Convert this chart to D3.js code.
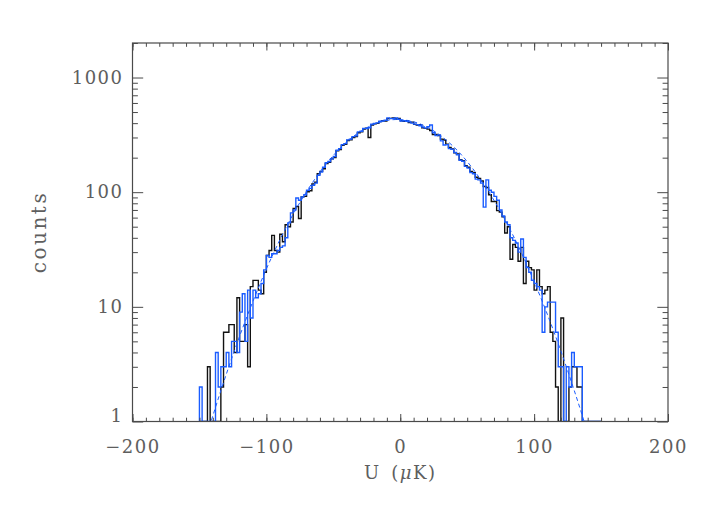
<!DOCTYPE html>
<html><head><meta charset="utf-8">
<script src="https://cdn.jsdelivr.net/npm/d3@7"></script>
<style>body{margin:0;background:#fff}svg{display:block}</style>
</head><body><svg id="c" width="708" height="506"></svg>
<script>
// ---- data ----
const binStart = -150, binWidth = 2;
const blackCounts = [
  0,0,0,3,0,0,0,0,2,6,
  6,7,7,4,12,5,5,7,3,15,
  17,17,14,13,20,28,31,42,31,30,
  43,37,52,50,55,72,75,59,91,92,
  101,103,118,122,145,152,160,178,182,195,
  200,230,235,256,262,282,286,300,306,330,
  336,355,362,300,385,395,398,412,420,418,
  438,440,445,435,440,420,415,420,405,408,
  390,385,388,365,360,355,345,318,318,312,
  290,285,262,245,238,220,215,192,188,170,
  165,152,148,135,132,125,112,110,95,83,
  83,69,67,61,44,50,26,35,33,25,
  33,16,25,22,21,14,21,15,13,14,
  15,6,5,2,0,8,0,0,2,3,
  3,2,2,0,0,0,0,0,0,0
];
const blueCounts = [
  2,0,0,0,0,0,4,2,3,3,
  4,3,5,5,4,9,13,5,14,8,
  14,12,13,16,21,28,27,29,29,31,
  33,34,40,54,66,70,89,85,91,95,
  104,108,115,120,140,150,165,181,185,195,
  205,232,240,260,265,286,290,305,310,336,
  340,360,358,365,392,398,402,415,418,425,
  445,438,440,445,432,418,420,415,410,400,
  392,388,380,370,362,372,385,330,312,316,
  280,258,260,240,236,222,212,190,186,168,
  162,148,145,130,128,120,74,128,104,100,
  92,85,70,62,55,52,40,38,36,30,
  39,27,22,20,17,16,15,14,6,10,
  11,11,11,6,3,3,0,3,2,4,
  3,3,3,0,0,0,0,0,0,0
];
const fitU = [-150,-140,-130,-120,-110,-100,-90,-80,-70,-60,-50,-40,-30,-20,-10,0,10,20,30,40,50,60,70,80,90,100,110,120,130,140,150];
const fitCounts = [0.458,1.12,2.57,5.54,11.2,21.4,38.2,64.2,101,150,209,274,337,389,422,430,411,370,312,248,185,129,85.1,52.6,30.5,16.6,8.53,4.11,1.86,0.79,0.31];
const xTicks = [-200,-100,0,100,200];
const xMinor = d3.range(-200, 201, 10);
const yTicks = [1,10,100,1000];
const yTickLabels = ["1","10","100","1000"];
const yMinor = [2,3,4,5,6,7,8,9,20,30,40,50,60,70,80,90,200,300,400,500,600,700,800,900,2000];
const xLabel = "U\u2002(", xLabelMu = "\u03BC", xLabelEnd = "K)";
const yLabel = "counts";

// ---- layout ----
const L = 132.5, R = 668, T = 43, B = 421.5;
const svg = d3.select("#c");
const x = d3.scaleLinear().domain([-200,200]).range([L,R]);
const y = d3.scaleLog().domain([1,2000]).range([B,T]).clamp(true);
const yFree = d3.scaleLog().domain([1,2000]).range([B,T]);
const axisColor = "#4a4a4a", textColor = "#5e5e5e";
const font = "'DejaVu Serif', serif";

svg.append("defs").append("clipPath").attr("id","plot")
  .append("rect").attr("x",L).attr("y",T).attr("width",R-L).attr("height",B-T);

function stepPoints(counts){
  const pts = [[binStart, 0]];
  counts.forEach((v,i)=>pts.push([binStart+i*binWidth, v]));
  const end = binStart + counts.length*binWidth;
  pts.push([end, counts[counts.length-1]]);
  pts.push([end, 0]);
  return pts;
}
const stepLine = d3.line()
  .x(d=>x(d[0])).y(d=>y(Math.max(d[1],1)))
  .curve(d3.curveStepAfter);

const g = svg.append("g").attr("clip-path","url(#plot)");
g.append("path").datum(stepPoints(blackCounts)).attr("d",stepLine)
  .attr("fill","none").attr("stroke","#111").attr("stroke-width",1.4);
g.append("path").datum(stepPoints(blueCounts)).attr("d",stepLine)
  .attr("fill","none").attr("stroke","#1a5cff").attr("stroke-width",1.4);
const fitLine = d3.line().x((d,i)=>x(fitU[i])).y(d=>yFree(d))
  .curve(d3.curveNatural);
g.append("path").datum(fitCounts).attr("d",fitLine)
  .attr("fill","none").attr("stroke","#1a5cff").attr("stroke-width",1)
  .attr("stroke-dasharray","4,3");

// ---- axes ----
function style(sel){
  sel.select(".domain").remove();
  sel.selectAll(".tick line").attr("stroke",axisColor).attr("stroke-width",1);
  sel.selectAll(".tick text").attr("fill",textColor).style("font-family",font)
    .style("font-size","18px").style("letter-spacing","1.5px");
}
const majX = 7.5, minX = 3.8, majY = 10.7, minY = 5.4;
svg.append("g").attr("transform",`translate(0,${B})`)
  .call(d3.axisBottom(x).tickValues(xTicks).tickSize(-majX).tickPadding(19)
    .tickFormat(d=>d<0?"\u2212"+Math.abs(d):String(d))).call(style);
svg.append("g").attr("transform",`translate(0,${B})`)
  .call(d3.axisBottom(x).tickValues(xMinor).tickSize(-minX).tickFormat("")).call(style);
svg.append("g").attr("transform",`translate(0,${T})`)
  .call(d3.axisTop(x).tickValues(xTicks).tickSize(-majX).tickFormat("")).call(style);
svg.append("g").attr("transform",`translate(0,${T})`)
  .call(d3.axisTop(x).tickValues(xMinor).tickSize(-minX).tickFormat("")).call(style);
const yAx = svg.append("g").attr("transform",`translate(${L},0)`)
  .call(d3.axisLeft(y).tickValues(yTicks).tickSize(-majY).tickPadding(9)
    .tickFormat((d,i)=>yTickLabels[i])).call(style);
yAx.selectAll(".tick text").filter(d=>d===1).attr("dy","0.0em");
svg.append("g").attr("transform",`translate(${L},0)`)
  .call(d3.axisLeft(y).tickValues(yMinor).tickSize(-minY).tickFormat("")).call(style);
svg.append("g").attr("transform",`translate(${R},0)`)
  .call(d3.axisRight(y).tickValues(yTicks).tickSize(-majY).tickFormat("")).call(style);
svg.append("g").attr("transform",`translate(${R},0)`)
  .call(d3.axisRight(y).tickValues(yMinor).tickSize(-minY).tickFormat("")).call(style);

svg.append("rect").attr("x",L).attr("y",T).attr("width",R-L).attr("height",B-T)
  .attr("fill","none").attr("stroke",axisColor).attr("stroke-width",1.2);

// ---- labels ----
const xl = svg.append("text").attr("x",(L+R)/2).attr("y",479).attr("text-anchor","middle")
  .attr("fill",textColor).style("font-family",font).style("font-size","18px")
  .style("letter-spacing","1.5px");
xl.append("tspan").text(xLabel);
xl.append("tspan").style("font-style","italic").text(xLabelMu);
xl.append("tspan").text(xLabelEnd);
svg.append("text").attr("transform",`translate(46,232) rotate(-90)`).attr("text-anchor","middle")
  .attr("fill",textColor).style("font-family",font).style("font-size","20px")
  .style("letter-spacing","2.5px").text(yLabel);
</script></body></html>
